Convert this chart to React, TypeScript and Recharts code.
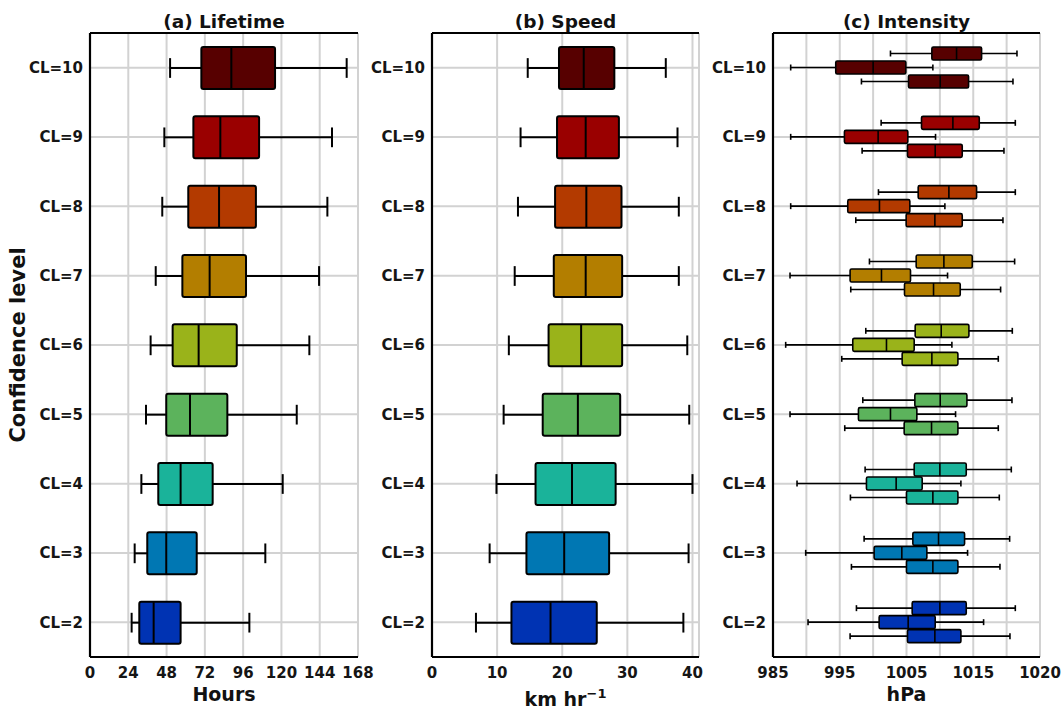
import React from 'react';
import { ComposedChart, Bar, XAxis, YAxis, CartesianGrid } from 'recharts';

const categories = ['CL=10', 'CL=9', 'CL=8', 'CL=7', 'CL=6', 'CL=5', 'CL=4', 'CL=3', 'CL=2'];
const colors = ['#570000', '#9a0000', '#b33a00', '#b37e00', '#9ab31a', '#5cb35c', '#1ab39a', '#0077b3', '#0033b3'];

// [min, q1, median, q3, max]
const lifetime = [
  [50.2, 69.8, 88.6, 116.0, 160.9],
  [46.6, 64.8, 81.7, 106.0, 151.7],
  [45.3, 61.6, 80.9, 104.0, 148.8],
  [41.2, 57.9, 75.0, 97.8, 143.6],
  [38.0, 51.8, 68.1, 92.0, 137.5],
  [35.1, 47.8, 62.7, 86.1, 129.6],
  [32.2, 42.8, 56.8, 76.9, 120.8],
  [28.0, 35.9, 47.8, 66.9, 109.9],
  [26.1, 30.9, 39.9, 56.8, 99.9],
];

const speed = [
  [14.7, 19.5, 23.3, 28.0, 35.9],
  [13.6, 19.2, 23.6, 28.7, 37.7],
  [13.2, 18.9, 23.7, 29.1, 37.9],
  [12.7, 18.7, 23.6, 29.2, 37.9],
  [11.8, 17.9, 22.9, 29.2, 39.2],
  [11.0, 17.0, 22.4, 28.9, 39.5],
  [9.9, 15.9, 21.5, 28.2, 40.0],
  [8.85, 14.5, 20.3, 27.2, 39.4],
  [6.75, 12.2, 18.2, 25.3, 38.6],
];

const intensityTop = [
  [1002.6, 1008.8, 1012.5, 1016.25, 1021.55],
  [1001.2, 1007.25, 1011.95, 1015.9, 1021.3],
  [1000.8, 1006.75, 1011.35, 1015.5, 1021.3],
  [999.45, 1006.45, 1010.6, 1014.85, 1021.2],
  [998.9, 1006.3, 1010.2, 1014.35, 1020.85],
  [998.45, 1006.25, 1010.05, 1014.05, 1020.8],
  [998.8, 1006.15, 1010.0, 1013.95, 1020.7],
  [998.65, 1005.95, 1009.8, 1013.7, 1020.45],
  [997.5, 1005.85, 1010.0, 1013.95, 1021.3],
];

const intensityMid = [
  [987.65, 994.4, 1000.0, 1004.9, 1008.95],
  [987.65, 995.7, 1000.75, 1005.2, 1009.35],
  [987.65, 996.2, 1000.95, 1005.5, 1010.75],
  [987.55, 996.55, 1001.25, 1005.6, 1011.15],
  [986.9, 996.95, 1002.0, 1006.15, 1011.8],
  [987.55, 997.8, 1002.6, 1006.55, 1012.35],
  [988.6, 999.0, 1003.45, 1007.35, 1013.15],
  [989.9, 1000.15, 1004.3, 1008.05, 1014.15],
  [990.25, 1000.9, 1005.25, 1009.3, 1016.55],
];

const intensityBottom = [
  [998.25, 1005.3, 1010.05, 1014.3, 1020.95],
  [998.35, 1005.15, 1009.3, 1013.35, 1019.6],
  [997.4, 1004.95, 1009.25, 1013.35, 1019.45],
  [996.65, 1004.7, 1009.05, 1013.05, 1019.1],
  [995.3, 1004.35, 1008.8, 1012.7, 1018.75],
  [995.75, 1004.65, 1008.75, 1012.7, 1018.75],
  [996.6, 1005.0, 1008.95, 1012.7, 1018.9],
  [996.75, 1005.0, 1008.95, 1012.7, 1019.0],
  [996.55, 1005.15, 1009.25, 1013.15, 1020.5],
];

const lifetimeTicks = [0, 24, 48, 72, 96, 120, 144, 168];
const speedTicks = [0, 10, 20, 30, 40];
const speedGrid = [0, 10, 20, 30, 40];
const intensityTicks = [985, 995, 1005, 1015, 1025];
const intensityTickLabels = ['985', '995', '1005', '1015', '1020'];
const intensityGrid = [985, 990, 995, 1000, 1005, 1010, 1015, 1020, 1025];

const FONT = '"DejaVu Sans", sans-serif';

type PanelProps = {
  left: number;
  width: number;
  yAxisWidth: number;
  marginRight: number;
  title: string;
  xLabel: React.ReactNode;
  xLabelDy: number;
  domain: [number, number];
  ticks: number[];
  tickLabels?: string[];
  gridTicks: number[];
  series: number[][][];
  boxSize: number;
  gap: number;
  capFrac: number;
  boxLw: number;
  whiskerLw: number;
  radius: number;
  yLabel?: string;
};

function makeShape(k: number, capFrac: number, boxLw: number, whiskerLw: number, radius: number) {
  return (props: any) => {
    const { x, y, width, height, payload } = props;
    const s: number[] = payload.stats[k];
    const ppu = width / (s[4] - s[0]);
    const px = (v: number) => x + (v - s[0]) * ppu;
    const cy = y + height / 2;
    const cap = (height * capFrac) / 2;
    return (
      <g>
        <line x1={px(s[0])} x2={px(s[1])} y1={cy} y2={cy} stroke="#000" strokeWidth={whiskerLw} />
        <line x1={px(s[3])} x2={px(s[4])} y1={cy} y2={cy} stroke="#000" strokeWidth={whiskerLw} />
        <line x1={px(s[0])} x2={px(s[0])} y1={cy - cap} y2={cy + cap} stroke="#000" strokeWidth={whiskerLw} />
        <line x1={px(s[4])} x2={px(s[4])} y1={cy - cap} y2={cy + cap} stroke="#000" strokeWidth={whiskerLw} />
        <rect
          x={px(s[1])}
          y={y}
          width={px(s[3]) - px(s[1])}
          height={height}
          fill={payload.color}
          stroke="#000"
          strokeWidth={boxLw}
          rx={radius}
          ry={radius}
        />
        <line x1={px(s[2])} x2={px(s[2])} y1={y} y2={y + height} stroke="#000" strokeWidth={boxLw} />
      </g>
    );
  };
}

function Panel(p: PanelProps) {
  const data = categories.map((cl, i) => {
    const row: any = { cl, color: colors[i], stats: p.series.map((s) => s[i]) };
    p.series.forEach((s, k) => {
      row['r' + k] = [s[i][0], s[i][4]];
    });
    return row;
  });
  const tickStyle = { fontSize: 15, fontWeight: 700, fill: '#151515', fontFamily: FONT };
  return (
    <div style={{ position: 'absolute', left: p.left, top: 0 }}>
      <ComposedChart
        width={p.width}
        height={711}
        layout="vertical"
        data={data}
        margin={{ top: 0, right: p.marginRight, bottom: 24, left: 0 }}
        barGap={p.gap}
      >
        <CartesianGrid xAxisId="top" stroke="#d2d2d2" strokeWidth={2} fill="none" />
        <XAxis
          type="number"
          domain={p.domain}
          ticks={p.ticks}
          interval={0}
          allowDataOverflow
          height={30}
          tickSize={0}
          tickMargin={10}
          tickLine={false}
          axisLine={{ stroke: '#000', strokeWidth: 2.2 }}
          tick={tickStyle}
          tickFormatter={(v: number) => {
            const idx = p.ticks.indexOf(v);
            return p.tickLabels && idx >= 0 ? p.tickLabels[idx] : String(v);
          }}
          label={{
            content: (lp: any) => {
              const vb = lp.viewBox;
              return (
                <text
                  x={vb.x + vb.width / 2}
                  y={vb.y + vb.height + p.xLabelDy}
                  textAnchor="middle"
                  fontSize={19}
                  fontWeight={700}
                  fontFamily={FONT}
                  fill="#111"
                >
                  {p.xLabel}
                </text>
              );
            },
          }}
        />
        <XAxis
          xAxisId="top"
          orientation="top"
          type="number"
          domain={p.domain}
          ticks={p.gridTicks}
          interval={0}
          allowDataOverflow
          height={33}
          tick={{ fill: 'transparent', fontSize: 1 }}
          tickLine={false}
          axisLine={{ stroke: '#000', strokeWidth: 2.2 }}
          label={{
            content: (lp: any) => {
              const vb = lp.viewBox;
              return (
                <text
                  x={vb.x + vb.width / 2}
                  y={vb.y + vb.height - 5}
                  textAnchor="middle"
                  fontSize={18.5}
                  fontWeight={700}
                  fontFamily={FONT}
                  fill="#111"
                >
                  {p.title}
                </text>
              );
            },
          }}
        />
        <YAxis
          type="category"
          dataKey="cl"
          width={p.yAxisWidth}
          tickSize={0}
          tickMargin={7}
          tickLine={false}
          interval={0}
          axisLine={{ stroke: '#000', strokeWidth: 2.2 }}
          tick={tickStyle}
          label={
            p.yLabel
              ? {
                  content: (lp: any) => {
                    const vb = lp.viewBox;
                    const cx = 18;
                    const cy = vb.y + vb.height / 2;
                    return (
                      <text
                        x={cx}
                        y={cy}
                        textAnchor="middle"
                        dominantBaseline="central"
                        transform={`rotate(-90 ${cx} ${cy})`}
                        fontSize={21}
                        fontWeight={700}
                        fontFamily={FONT}
                        fill="#111"
                      >
                        {p.yLabel}
                      </text>
                    );
                  },
                }
              : undefined
          }
        />
        <YAxis
          yAxisId="right"
          orientation="right"
          type="category"
          dataKey="cl"
          width={0}
          tick={false}
          tickLine={false}
          axisLine={{ stroke: '#000', strokeWidth: 2.2 }}
        />
        {p.series.map((_, k) => (
          <Bar
            key={k}
            dataKey={'r' + k}
            barSize={p.boxSize}
            isAnimationActive={false}
            shape={makeShape(k, p.capFrac, p.boxLw, p.whiskerLw, p.radius)}
          />
        ))}
      </ComposedChart>
    </div>
  );
}

export default function App() {
  return (
    <div
      style={{
        position: 'absolute',
        left: 0,
        top: 0,
        width: 1063,
        height: 711,
        background: '#fff',
        fontFamily: FONT,
      }}
    >
      <Panel
        left={0}
        width={380}
        yAxisWidth={90}
        marginRight={22}
        title="(a) Lifetime"
        xLabel="Hours"
        xLabelDy={14}
        domain={[0, 168]}
        ticks={lifetimeTicks}
        gridTicks={lifetimeTicks}
        series={[lifetime]}
        boxSize={42}
        gap={0}
        capFrac={0.47}
        boxLw={2}
        whiskerLw={2}
        radius={2}
        yLabel="Confidence level"
      />
      <Panel
        left={362}
        width={360}
        yAxisWidth={70}
        marginRight={23}
        title="(b) Speed"
        xLabel={
          <>
            km hr
            <tspan fontSize={13} dy={-8}>
              −1
            </tspan>
          </>
        }
        xLabelDy={19}
        domain={[0, 41]}
        ticks={speedTicks}
        gridTicks={speedGrid}
        series={[speed]}
        boxSize={42}
        gap={0}
        capFrac={0.47}
        boxLw={2}
        whiskerLw={2}
        radius={2}
      />
      <Panel
        left={703}
        width={360}
        yAxisWidth={70}
        marginRight={23}
        title="(c) Intensity"
        xLabel="hPa"
        xLabelDy={14}
        domain={[985, 1025]}
        ticks={intensityTicks}
        tickLabels={intensityTickLabels}
        gridTicks={intensityGrid}
        series={[intensityTop, intensityMid, intensityBottom]}
        boxSize={13}
        gap={1}
        capFrac={0.46}
        boxLw={1.6}
        whiskerLw={1.6}
        radius={1.5}
      />
    </div>
  );
}
